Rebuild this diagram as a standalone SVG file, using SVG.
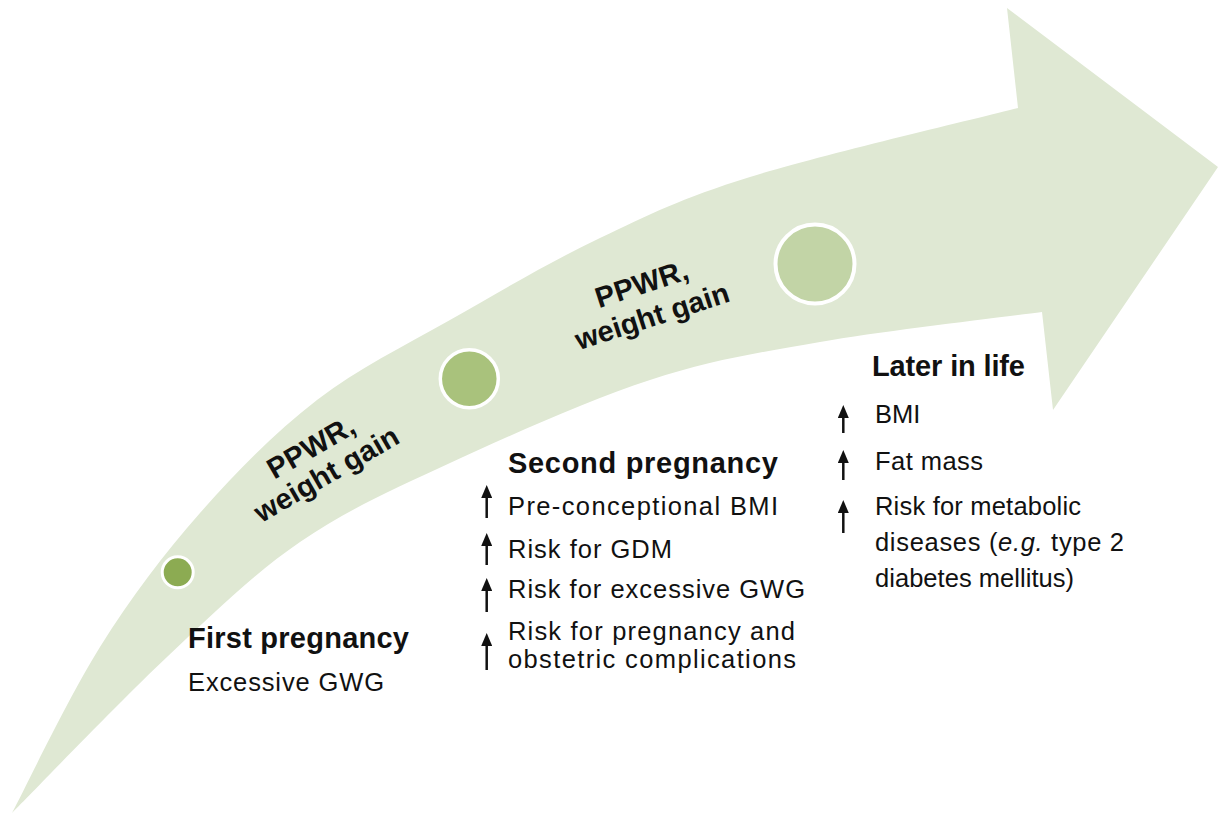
<svg xmlns="http://www.w3.org/2000/svg" width="1219" height="814" viewBox="0 0 1219 814">
  <style>
    .band { fill: #dfe8d3; }
    .dot { stroke: #ffffff; }
    .h { font-family: "Liberation Sans", Arial, Helvetica, sans-serif; font-weight: bold; font-size: 29px; fill: #111111; }
    .t { font-family: "Liberation Sans", Arial, Helvetica, sans-serif; font-size: 25.5px; fill: #111111; }
    .up { stroke: #111111; stroke-width: 2.5; fill: none; }
  </style>
  <defs>
    <marker id="up-head" viewBox="0 0 13 11" refX="6" refY="5.5" markerWidth="13" markerHeight="11" markerUnits="userSpaceOnUse" orient="auto">
      <path d="M0,0 L13,5.5 L0,11 Z" fill="#111111"/>
    </marker>
  </defs>

  <!-- curved timeline arrow -->
  <g id="timeline-arrow">
    <path class="band" d="M12,813 C26.7,785.3 68.7,697 100,647 C131.3,597 163.8,554.2 200,513 C236.2,471.8 275.3,432.2 317,400 C358.7,367.8 402.8,347 450,320 C497.2,293 550,261.8 600,238 C650,214.2 680.3,198.7 750,177 C819.7,155.3 973.3,119.5 1018,108 L1007,8 L1218,167 L1053,410 L1042,312 C1005,317 885.3,330.7 820,342 C754.7,353.3 711.7,359.8 650,380 C588.3,400.2 508.3,436 450,463 C391.7,490 347.2,509.7 300,542 C252.8,574.3 215,611.8 167,657 C119,702.2 37.8,787 12,813 Z"/>
  </g>

  <!-- milestones on the arrow -->
  <g id="milestone-1">
    <circle class="dot" cx="177.7" cy="572.3" r="15.5" fill="#8cab52" stroke-width="3"/>
  </g>
  <g id="milestone-2">
    <circle class="dot" cx="469.3" cy="378.7" r="29" fill="#a9c27c" stroke-width="3.5"/>
  </g>
  <g id="milestone-3">
    <circle class="dot" cx="815" cy="264" r="39.5" fill="#c2d4a6" stroke-width="4"/>
  </g>

  <!-- interval labels along the arrow -->
  <g id="interval-1" transform="translate(315.8,455.8) rotate(-30)">
    <text class="h" x="0" y="0" text-anchor="middle" textLength="96" lengthAdjust="spacing">PPWR,</text>
    <text class="h" x="0" y="31" text-anchor="middle" textLength="162" lengthAdjust="spacing">weight gain</text>
  </g>
  <g id="interval-2" transform="translate(644.7,293.3) rotate(-18)">
    <text class="h" x="0" y="0" text-anchor="middle" textLength="96" lengthAdjust="spacing">PPWR,</text>
    <text class="h" x="0" y="34" text-anchor="middle" textLength="160" lengthAdjust="spacing">weight gain</text>
  </g>

  <!-- first pregnancy -->
  <g id="first-pregnancy">
    <text class="h" x="188" y="648" textLength="221" lengthAdjust="spacing">First pregnancy</text>
    <text class="t" x="188" y="691" textLength="196" lengthAdjust="spacing">Excessive GWG</text>
  </g>

  <!-- second pregnancy -->
  <g id="second-pregnancy">
    <text class="h" x="508" y="473" textLength="270" lengthAdjust="spacing">Second pregnancy</text>
    <text class="t" x="508" y="515" textLength="270" lengthAdjust="spacing">Pre-conceptional BMI</text>
    <text class="t" x="508" y="558" textLength="164" lengthAdjust="spacing">Risk for GDM</text>
    <text class="t" x="508" y="598" textLength="297" lengthAdjust="spacing">Risk for excessive GWG</text>
    <text class="t" x="508" y="640" textLength="287" lengthAdjust="spacing">Risk for pregnancy and</text>
    <text class="t" x="508" y="668" textLength="288" lengthAdjust="spacing">obstetric complications</text>
  </g>

  <!-- later in life -->
  <g id="later-in-life">
    <text class="h" x="872" y="376" textLength="153" lengthAdjust="spacing">Later in life</text>
    <text class="t" x="875" y="423">BMI</text>
    <text class="t" x="875" y="470" textLength="108" lengthAdjust="spacing">Fat mass</text>
    <text class="t" x="875" y="515" textLength="206" lengthAdjust="spacing">Risk for metabolic</text>
    <text class="t" x="875" y="551" textLength="249" lengthAdjust="spacing">diseases (<tspan font-style="italic">e.g.</tspan> type 2</text>
    <text class="t" x="875" y="587" textLength="199" lengthAdjust="spacing">diabetes mellitus)</text>
  </g>

  <!-- increase indicators -->
  <g id="increase-arrows">
    <line class="up" x1="486.7" y1="518" x2="486.7" y2="492" marker-end="url(#up-head)"/>
    <line class="up" x1="486.7" y1="565" x2="486.7" y2="540" marker-end="url(#up-head)"/>
    <line class="up" x1="486.7" y1="612" x2="486.7" y2="585" marker-end="url(#up-head)"/>
    <line class="up" x1="486.7" y1="670" x2="486.7" y2="640" marker-end="url(#up-head)"/>
    <line class="up" x1="843.3" y1="433" x2="843.3" y2="412" marker-end="url(#up-head)"/>
    <line class="up" x1="843.3" y1="480" x2="843.3" y2="457" marker-end="url(#up-head)"/>
    <line class="up" x1="843.3" y1="533" x2="843.3" y2="507" marker-end="url(#up-head)"/>
  </g>
</svg>
